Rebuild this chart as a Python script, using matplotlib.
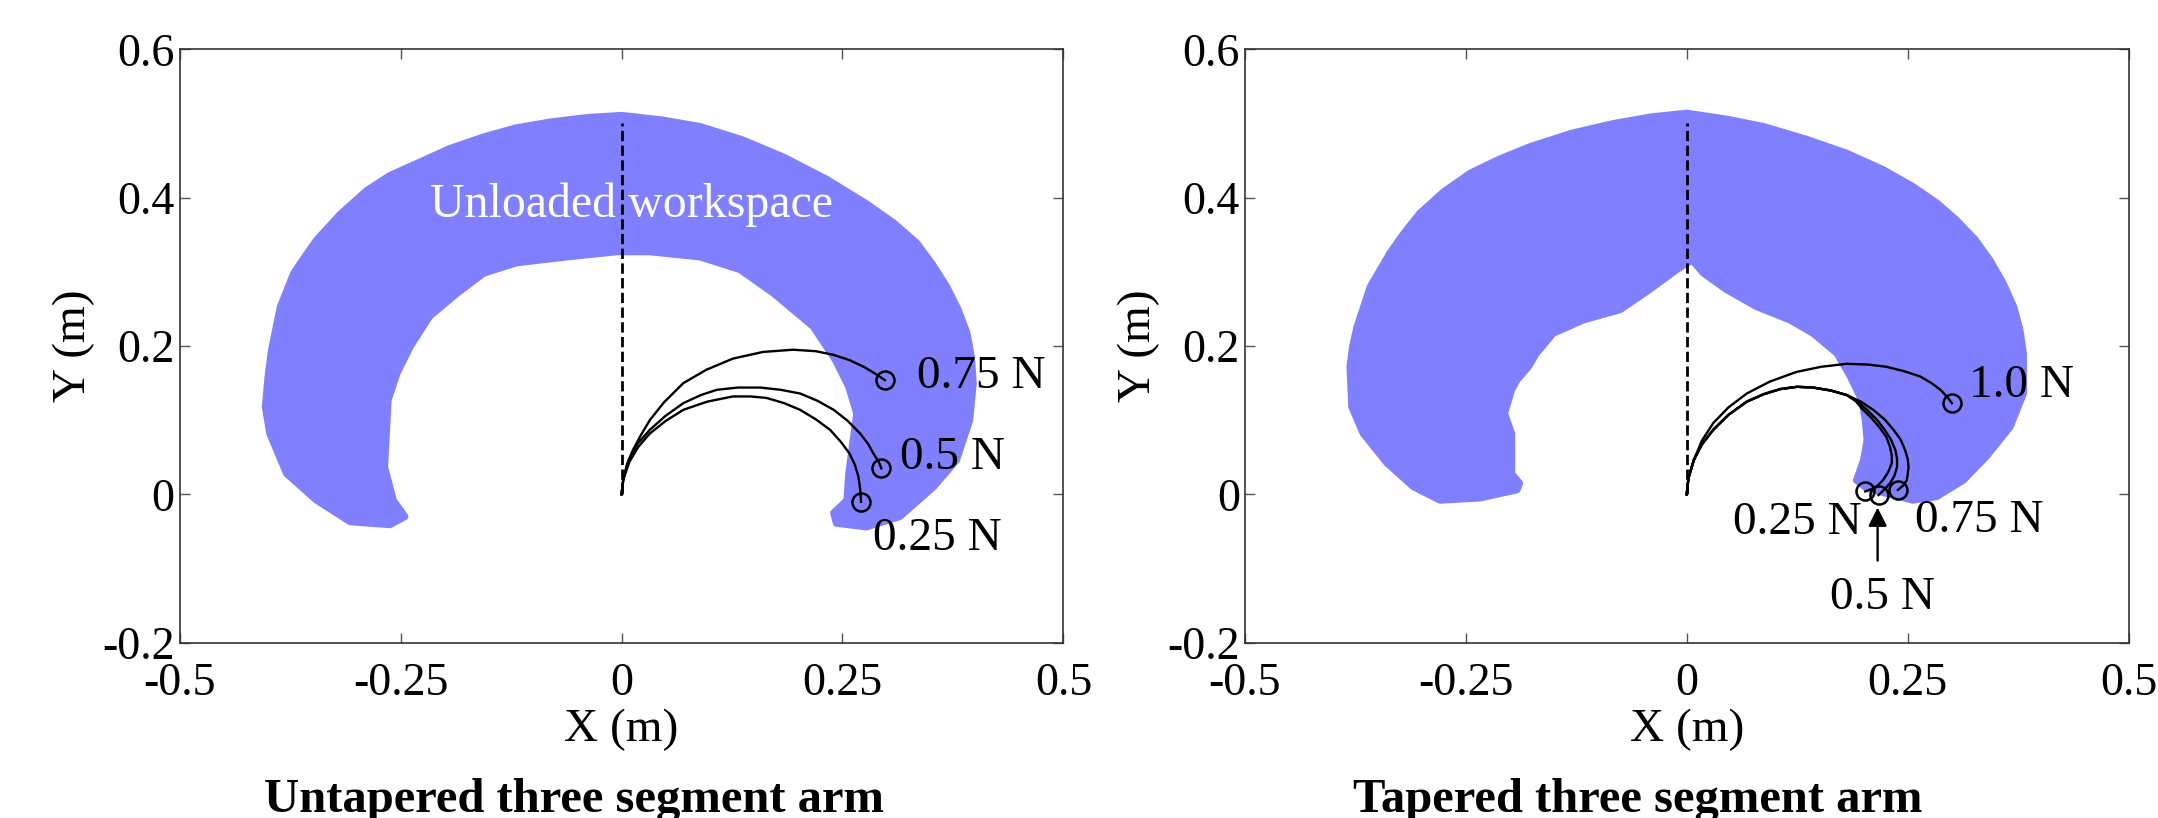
import matplotlib
matplotlib.use("Agg")
import matplotlib.pyplot as plt

plt.rcParams["font.family"] = ["Liberation Serif", "DejaVu Serif"]

# ── Axis ticks ───────────────────────────────────────────────
x_ticks = [-0.5, -0.25, 0, 0.25, 0.5]
x_tick_labels = ["-0.5", "-0.25", "0", "0.25", "0.5"]
y_ticks = [-0.2, 0, 0.2, 0.4, 0.6]
y_tick_labels = ["-0.2", "0", "0.2", "0.4", "0.6"]

# ── Untapered arm: workspace outline (outer edge, then inner edge) ──
untap_ws_x = [-0.245, -0.262, -0.307, -0.345, -0.379, -0.398, -0.403, -0.400,
              -0.396, -0.386, -0.371, -0.358, -0.345, -0.318, -0.288, -0.262,
              -0.232, -0.195, -0.156, -0.120, -0.081, -0.040, 0.0, 0.045,
              0.089, 0.137, 0.183, 0.232, 0.277, 0.308, 0.334, 0.352, 0.368,
              0.381, 0.391, 0.396, 0.398, 0.394, 0.379,
              0.353, 0.315, 0.277, 0.243, 0.240,
              0.255, 0.257, 0.262, 0.266, 0.257, 0.242, 0.217, 0.194, 0.172,
              0.134, 0.089, 0.032, -0.005, -0.062, -0.119, -0.156, -0.186,
              -0.217, -0.239, -0.254, -0.264, -0.266, -0.268, -0.258]
untap_ws_y = [-0.030, -0.041, -0.037, -0.008, 0.028, 0.082, 0.118, 0.158,
              0.195, 0.253, 0.298, 0.321, 0.343, 0.378, 0.410, 0.430,
              0.446, 0.466, 0.482, 0.494, 0.502, 0.508, 0.511, 0.505,
              0.496, 0.478, 0.455, 0.425, 0.392, 0.366, 0.339, 0.310, 0.280,
              0.249, 0.217, 0.184, 0.150, 0.100, 0.046,
              0.010, -0.030, -0.044, -0.039, -0.025,
              -0.008, 0.028, 0.073, 0.109, 0.145, 0.181, 0.226, 0.249, 0.271,
              0.303, 0.320, 0.327, 0.327, 0.320, 0.312, 0.298, 0.271,
              0.240, 0.199, 0.163, 0.127, 0.082, 0.037, -0.008]

# ── Untapered arm: loaded arm shapes ─────────────────────────
untap_loads = ["0.75 N", "0.5 N", "0.25 N"]
untap_arm_x = [
    [0, 0.002, 0.006, 0.013, 0.022, 0.032, 0.048, 0.070, 0.096, 0.126, 0.160,
     0.194, 0.220, 0.240, 0.258, 0.274, 0.288, 0.298],
    [0, 0.002, 0.008, 0.018, 0.032, 0.050, 0.070, 0.090, 0.108, 0.132, 0.157,
     0.180, 0.202, 0.222, 0.240, 0.256, 0.270, 0.279, 0.285, 0.291, 0.294],
    [0, 0.002, 0.009, 0.019, 0.032, 0.050, 0.070, 0.097, 0.126, 0.146, 0.164,
     0.184, 0.202, 0.220, 0.236, 0.248, 0.258, 0.264, 0.268, 0.270, 0.271],
]
untap_arm_y = [
    [0, 0.020, 0.040, 0.060, 0.080, 0.100, 0.124, 0.150, 0.168, 0.183, 0.192,
     0.195, 0.193, 0.188, 0.181, 0.172, 0.162, 0.154],
    [0, 0.020, 0.046, 0.068, 0.087, 0.106, 0.123, 0.134, 0.141, 0.144, 0.144,
     0.141, 0.136, 0.126, 0.114, 0.099, 0.082, 0.068, 0.055, 0.044, 0.035],
    [0, 0.020, 0.044, 0.064, 0.082, 0.099, 0.114, 0.125, 0.132, 0.132, 0.130,
     0.123, 0.114, 0.101, 0.087, 0.071, 0.055, 0.040, 0.024, 0.007, -0.010],
]

# ── Tapered arm: workspace outline ───────────────────────────
tap_ws_x = [-0.189, -0.192, -0.234, -0.279, -0.309, -0.339, -0.366, -0.379,
            -0.381, -0.378, -0.373, -0.358, -0.336, -0.320, -0.302, -0.275,
            -0.245, -0.212, -0.177, -0.130, -0.083, -0.040, 0.0, 0.045,
            0.087, 0.135, 0.181, 0.222, 0.256, 0.283, 0.305, 0.326, 0.343,
            0.358, 0.370, 0.377, 0.381, 0.381,
            0.366, 0.339, 0.313, 0.283, 0.256, 0.204, 0.192,
            0.200, 0.204, 0.202, 0.198, 0.185, 0.170, 0.143, 0.117, 0.079,
            0.045, 0.019, 0.006, -0.011, -0.042, -0.075, -0.117, -0.151,
            -0.170, -0.179, -0.192, -0.198, -0.206, -0.198, -0.198]
tap_ws_y = [0.015, 0.006, -0.005, -0.008, 0.010, 0.042, 0.082, 0.118,
            0.172, 0.200, 0.226, 0.280, 0.325, 0.352, 0.379, 0.408,
            0.433, 0.452, 0.469, 0.487, 0.500, 0.509, 0.514, 0.506,
            0.496, 0.479, 0.460, 0.438, 0.415, 0.393, 0.370, 0.344, 0.316,
            0.285, 0.253, 0.222, 0.190, 0.136,
            0.091, 0.051, 0.019, -0.003, -0.008, 0.008, 0.019,
            0.046, 0.073, 0.100, 0.127, 0.159, 0.190, 0.217, 0.235, 0.253,
            0.276, 0.298, 0.316, 0.303, 0.276, 0.249, 0.235, 0.217,
            0.190, 0.172, 0.154, 0.141, 0.109, 0.082, 0.028]

# ── Tapered arm: loaded arm shapes ───────────────────────────
tap_loads = ["1.0 N", "0.75 N", "0.5 N", "0.25 N"]
tap_arm_x = [
    [0, 0.002, 0.008, 0.017, 0.030, 0.047, 0.068, 0.094, 0.124, 0.152, 0.181,
     0.205, 0.226, 0.246, 0.264, 0.277, 0.287, 0.295, 0.300],
    [0, 0.002, 0.008, 0.017, 0.030, 0.047, 0.068, 0.087, 0.106, 0.125, 0.143,
     0.163, 0.181, 0.197, 0.211, 0.224, 0.234, 0.242, 0.247, 0.250, 0.251,
     0.250, 0.249, 0.245, 0.239],
    [0, 0.002, 0.008, 0.017, 0.030, 0.047, 0.068, 0.087, 0.106, 0.125, 0.143,
     0.163, 0.181, 0.194, 0.204, 0.215, 0.224, 0.231, 0.236, 0.238, 0.238,
     0.235, 0.230, 0.224, 0.217],
    [0, 0.002, 0.008, 0.017, 0.030, 0.047, 0.068, 0.087, 0.106, 0.125, 0.143,
     0.163, 0.181, 0.191, 0.198, 0.209, 0.219, 0.226, 0.230, 0.232, 0.232,
     0.228, 0.222, 0.216, 0.211, 0.202],
]
tap_arm_y = [
    [0, 0.022, 0.046, 0.072, 0.096, 0.117, 0.136, 0.152, 0.165, 0.172, 0.176,
     0.175, 0.172, 0.166, 0.159, 0.150, 0.141, 0.131, 0.123],
    [0, 0.022, 0.046, 0.067, 0.087, 0.107, 0.125, 0.135, 0.142, 0.145, 0.144,
     0.140, 0.134, 0.125, 0.114, 0.101, 0.087, 0.074, 0.060, 0.048, 0.037,
     0.027, 0.019, 0.012, 0.006],
    [0, 0.022, 0.046, 0.067, 0.087, 0.107, 0.125, 0.135, 0.142, 0.145, 0.144,
     0.140, 0.134, 0.124, 0.114, 0.101, 0.087, 0.074, 0.060, 0.048, 0.037,
     0.025, 0.015, 0.007, -0.001],
    [0, 0.022, 0.046, 0.067, 0.087, 0.107, 0.125, 0.135, 0.142, 0.145, 0.144,
     0.140, 0.134, 0.126, 0.116, 0.103, 0.089, 0.077, 0.064, 0.053, 0.042,
     0.030, 0.019, 0.012, 0.008, 0.004],
]

WS_COLOR = "#8080ff"
FS = 34
TICK_FS = 33

fig = plt.figure(figsize=(21.58, 8.18), dpi=100)
ax_l = fig.add_axes([0.0832, 0.2143, 0.4096, 0.7254])
ax_r = fig.add_axes([0.5768, 0.2143, 0.4096, 0.7254])


def style_axes(ax):
    ax.set_xlim(-0.5, 0.5)
    ax.set_ylim(-0.2, 0.6)
    ax.set_xticks(x_ticks)
    ax.set_xticklabels(x_tick_labels)
    ax.set_yticks(y_ticks)
    ax.set_yticklabels(y_tick_labels)
    ax.tick_params(direction="in", top=True, right=True, length=7, width=1,
                   color="#555555", labelsize=TICK_FS)
    ax.tick_params(axis="x", pad=14)
    ax.tick_params(axis="y", pad=3.5)
    for sp in ax.spines.values():
        sp.set_linewidth(1.2)
        sp.set_color("#333333")
    ax.set_xlabel("X (m)", fontsize=FS, labelpad=3)
    ax.set_ylabel("Y (m)", fontsize=FS, labelpad=5)
    ax.plot([0, 0], [0, 0.5], color="black", linestyle="--", linewidth=2.0)


def draw_workspace(ax, x, y):
    patches = ax.fill(x, y, facecolor=WS_COLOR, edgecolor=WS_COLOR,
                      linewidth=5)
    for p in patches:
        p.set_joinstyle("round")


def draw_arms(ax, xs, ys):
    for x, y in zip(xs, ys):
        ax.plot(x, y, color="black", linewidth=1.7)
        ax.plot(x[-1], y[-1], marker="o", markersize=13, mfc="none",
                mec="black", mew=1.8)


# Left: untapered
draw_workspace(ax_l, untap_ws_x, untap_ws_y)
style_axes(ax_l)
draw_arms(ax_l, untap_arm_x, untap_arm_y)
ax_l.text(-0.217, 0.39, "Unloaded workspace", color="white", fontsize=34.5,
          va="center", ha="left")
ax_l.text(0.334, 0.158, untap_loads[0], fontsize=FS, va="center", ha="left")
ax_l.text(0.315, 0.050, untap_loads[1], fontsize=FS, va="center", ha="left")
ax_l.text(0.285, -0.060, untap_loads[2], fontsize=FS, va="center", ha="left")

# Right: tapered
draw_workspace(ax_r, tap_ws_x, tap_ws_y)
style_axes(ax_r)
draw_arms(ax_r, tap_arm_x, tap_arm_y)
ax_r.text(0.319, 0.146, tap_loads[0], fontsize=FS, va="center", ha="left")
ax_r.text(0.258, -0.036, tap_loads[1], fontsize=FS, va="center", ha="left")
ax_r.text(0.222, -0.140, tap_loads[2], fontsize=FS, va="center", ha="center")
ax_r.text(0.198, -0.038, tap_loads[3], fontsize=FS, va="center", ha="right")
ax_r.annotate("", xy=(0.216, -0.014), xytext=(0.216, -0.093),
              arrowprops=dict(arrowstyle="-|>", color="black", lw=1.7,
                              mutation_scale=28))

# Panel captions
fig.text(574 / 2158, 1 - 812 / 818, "Untapered three segment arm",
         fontsize=35, fontweight="bold", ha="center", va="baseline")
fig.text(1638 / 2158, 1 - 812 / 818, "Tapered three segment arm",
         fontsize=35, fontweight="bold", ha="center", va="baseline")

fig.savefig("out.png", dpi=100, facecolor="white")
